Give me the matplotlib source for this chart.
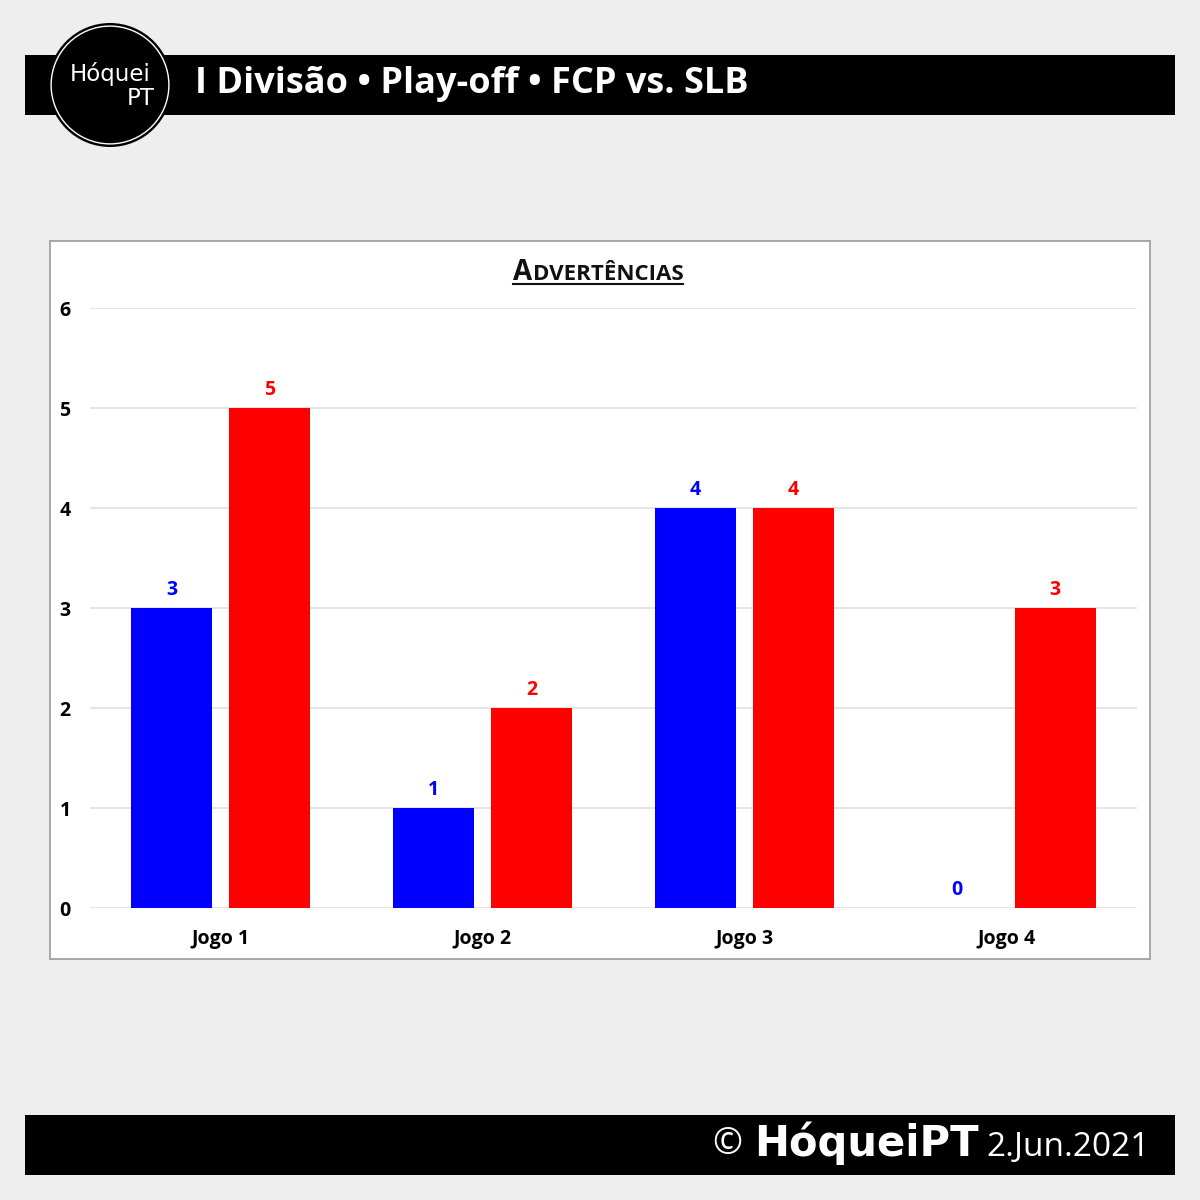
import matplotlib
matplotlib.use("Agg")
import matplotlib.pyplot as plt
from matplotlib.patches import Rectangle, Circle
import numpy as np

categories = ["Jogo 1", "Jogo 2", "Jogo 3", "Jogo 4"]
fcp = [3, 1, 4, 0]
slb = [5, 2, 4, 3]
yticks = [0, 1, 2, 3, 4, 5, 6]
title = "I Divisão • Play-off • FCP vs. SLB"
chart_title_first = "A"
chart_title_rest = "DVERTÊNCIAS"
footer_brand = "HóqueiPT"
footer_date = "2.Jun.2021"

plt.rcParams['font.family'] = ['Open Sans', 'DejaVu Sans']

W = H = 1200
fig = plt.figure(figsize=(12, 12), dpi=100)
fig.patch.set_facecolor("#eeeeee")

def fx(x): return x / W
def fy(y): return 1 - y / H

# header bar
fig.patches.append(Rectangle((fx(25), fy(115)), fx(1150), 60 / H, transform=fig.transFigure,
                             facecolor="black", edgecolor="none", zorder=-5))
# footer bar
fig.patches.append(Rectangle((fx(25), fy(1175)), fx(1150), 60 / H, transform=fig.transFigure,
                             facecolor="black", edgecolor="none", zorder=-5))
# chart panel
fig.patches.append(Rectangle((fx(50), fy(959)), 1100 / W, 718 / H, transform=fig.transFigure,
                             facecolor="white", edgecolor="#999999", lw=1.2, zorder=-5))

# logo circle
ax_logo = fig.add_axes([fx(48), fy(147), 124 / W, 124 / H])
ax_logo.set_xlim(-1, 1); ax_logo.set_ylim(-1, 1); ax_logo.axis("off")
ax_logo.add_patch(Circle((0, 0), 1.0, facecolor="black", edgecolor="none"))
ax_logo.add_patch(Circle((0, 0), 0.95, facecolor="none", edgecolor="white", lw=1.0))
ax_logo.text(0.0, 0.17, "Hóquei", color="white", fontsize=16.5,
             ha="center", va="center", family="DejaVu Sans")
ax_logo.text(0.5, -0.21, "PT", color="white", fontsize=16.5,
             ha="center", va="center", family="DejaVu Sans")

fig.text(fx(195), fy(84), title, color="white", fontsize=26, fontweight="bold",
         ha="left", va="center")

ax = fig.add_axes([fx(90), fy(908), 1047 / W, 600 / H])
ax.set_facecolor("none")
x = np.arange(len(categories))
off = 0.187
bw = 0.31
ax.bar(x - off, fcp, width=bw, color="#0000ff", zorder=3)
ax.bar(x + off, slb, width=bw, color="#ff0000", zorder=3)
for xi, v in zip(x, fcp):
    ax.text(xi - off, v + 0.18, str(v), color="#0000ff", fontsize=14, fontweight="bold",
            ha="center", va="center")
for xi, v in zip(x, slb):
    ax.text(xi + off, v + 0.18, str(v), color="#ff0000", fontsize=14, fontweight="bold",
            ha="center", va="center")
ax.set_xlim(-0.5, 3.5)
ax.set_ylim(0, 6)
ax.set_yticks(yticks)
ax.set_yticklabels([str(t) for t in yticks], fontsize=14, fontweight="bold")
ax.set_xticks(x)
ax.set_xticklabels(categories, fontsize=14, fontweight="bold")
ax.tick_params(axis="x", length=0, pad=15)
ax.tick_params(axis="y", length=0, pad=14)
ax.grid(axis="y", color="#e0e0e0", lw=1.2, zorder=0)
for s in ax.spines.values():
    s.set_visible(False)

fig.canvas.draw()
r = fig.canvas.get_renderer()

# footer texts, laid out right to left
td = fig.text(fx(1150), fy(1147), footer_date, color="white", fontsize=24, ha="right", va="center")
bd = td.get_window_extent(r)
tb = fig.text(bd.x0 / W - 8 / W, fy(1143), footer_brand, color="white", fontsize=30,
              fontweight="bold", ha="right", va="center", family="DejaVu Sans")
bb = tb.get_window_extent(r)
fig.text(bb.x0 / W - 12 / W, fy(1145), "©", color="white", fontsize=26, ha="right", va="center")

# chart title small caps
t1 = fig.text(fx(513), fy(280), chart_title_first, fontsize=20, fontweight="bold",
              ha="left", va="baseline", color="#111111")
b1 = t1.get_window_extent(r)
t2 = fig.text(b1.x1 / W + 0.0005, fy(280), chart_title_rest, fontsize=16, fontweight="bold",
              ha="left", va="baseline", color="#111111")
b2 = t2.get_window_extent(r)
fig.add_artist(plt.Line2D([fx(513), b2.x1 / W], [fy(284), fy(284)], color="#111111", lw=1.5,
                          transform=fig.transFigure))

fig.savefig("out.png", dpi=100, facecolor=fig.get_facecolor())
